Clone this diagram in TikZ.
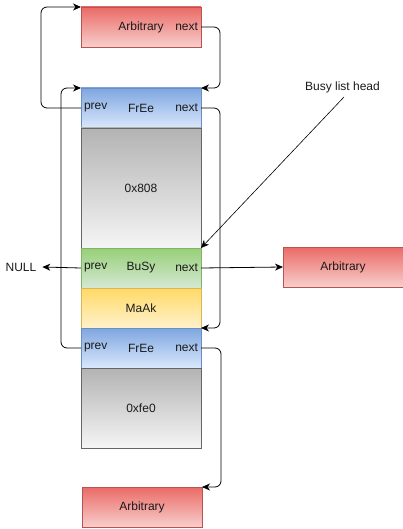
\documentclass[tikz,border=0pt]{standalone}
\usepackage{fontspec}
\setmainfont{Liberation Sans}
\usetikzlibrary{arrows.meta}
\definecolor{redT}{HTML}{EA6B66}\definecolor{redB}{HTML}{F8CECC}\definecolor{redS}{HTML}{B85450}
\definecolor{bluT}{HTML}{7EA6E0}\definecolor{bluB}{HTML}{DAE8FC}\definecolor{bluS}{HTML}{6C8EBF}
\definecolor{grnT}{HTML}{97D077}\definecolor{grnB}{HTML}{D5E8D4}\definecolor{grnS}{HTML}{82B366}
\definecolor{yelT}{HTML}{FFD966}\definecolor{yelB}{HTML}{FFF2CC}\definecolor{yelS}{HTML}{D6B656}
\definecolor{gryT}{HTML}{B3B3B3}\definecolor{gryB}{HTML}{F5F5F5}\definecolor{gryS}{HTML}{666666}
\definecolor{txt}{HTML}{1A1A1A}
\tikzset{
  box/.style={rectangle, minimum width=120pt, minimum height=40pt, inner sep=0pt, outer sep=0pt, line width=0.8pt, font=\fontsize{12}{14}\selectfont, text=txt},
  redbox/.style={box, draw=redS, top color=redT, bottom color=redB},
  bluebox/.style={box, draw=bluS, top color=bluT, bottom color=bluB},
  greenbox/.style={box, draw=grnS, top color=grnT, bottom color=grnB},
  yellowbox/.style={box, draw=yelS, top color=yelT, bottom color=yelB},
  graybox/.style={box, draw=gryS, top color=gryT, bottom color=gryB},
  lbl/.style={inner sep=0pt, outer sep=0pt, font=\fontsize{12}{14}\selectfont, text=txt},
  conn/.style={line width=0.8pt, rounded corners=6pt, -{Stealth[length=8pt,width=7pt,inset=2.5pt]}},
}
\begin{document}
\begin{tikzpicture}[x=1pt,y=-1pt]
\useasboundingbox (0,0) rectangle (403,529);
% boxes
\node[redbox] (arbT) at (141,27) {Arbitrary};
\node[bluebox] (free1) at (141,108) {FrEe};
\node[graybox, minimum height=120pt] (data1) at (141,188) {0x808};
\node[greenbox] (busy) at (141,268) {BuSy};
\node[yellowbox] (maak) at (141,308) {MaAk};
\node[bluebox] (free2) at (141,348) {FrEe};
\node[graybox, minimum height=80pt] (data2) at (141,408) {0xfe0};
\node[redbox] (arbB) at (142,507) {Arbitrary};
\node[redbox] (arbR) at (343,267) {Arbitrary};
% field labels
\node[lbl, anchor=east] (arbTnext) at (198,27) {next};
\node[lbl, anchor=west] (f1prev) at (84,108) {prev};
\node[lbl, anchor=east] (f1next) at (198,108) {next};
\node[lbl, anchor=west] (bprev) at (84,268) {prev};
\node[lbl, anchor=east] (bnext) at (198,268) {next};
\node[lbl, anchor=west] (f2prev) at (84,348) {prev};
\node[lbl, anchor=east] (f2next) at (198,348) {next};
\node[lbl] (null) at (21,267) {NULL};
\node[lbl] (head) at (342.5,87) {Busy list head};
\coordinate (headtail) at (344,97);
% connectors
\draw[conn] (arbT.east) -- ++(19,0) |- (free1.north east);
\draw[conn] (free1.west) -- ++(-40,0) |- (arbT.north west);
\draw[conn] (free2.west) -- ++(-20,0) |- (free1.north west);
\draw[conn] (free1.east) -- ++(19,0) |- (free2.north east);
\draw[conn] (free2.east) -- ++(20,0) |- (arbB.north east);
\draw[line width=0.6pt, -{Stealth[length=8pt,width=7pt,inset=2.5pt]}] (headtail) -- (busy.north east);
\draw[conn] (busy.east) -- (arbR.west);
\draw[conn] (busy.west) -- ([xshift=6pt]null.east);
\end{tikzpicture}
\end{document}
